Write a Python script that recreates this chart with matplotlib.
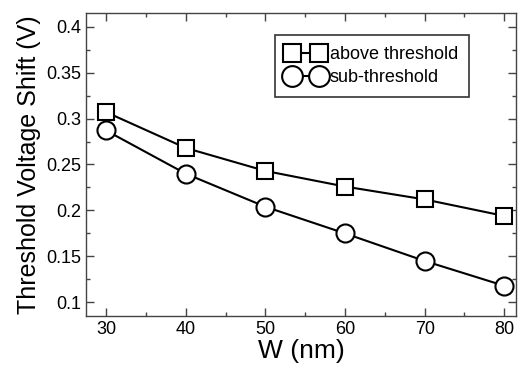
import matplotlib
matplotlib.use('Agg')
import matplotlib.pyplot as plt
from matplotlib.ticker import MultipleLocator

plt.rcParams['font.family'] = ['Liberation Sans', 'DejaVu Sans']

width_nm = [30, 40, 50, 60, 70, 80]
above_threshold = [0.307, 0.268, 0.243, 0.226, 0.212, 0.194]
sub_threshold = [0.287, 0.240, 0.204, 0.175, 0.145, 0.118]

fig = plt.figure(figsize=(5.22, 3.68), dpi=100)
ax = fig.add_axes([0.165, 0.141, 0.824, 0.824])

ax.plot(width_nm, above_threshold, '-s', color='black', lw=1.5,
        ms=11, mfc='white', mec='black', mew=1.5, label='above threshold')
ax.plot(width_nm, sub_threshold, '-o', color='black', lw=1.5,
        ms=13, mfc='white', mec='black', mew=1.5, label='sub-threshold')

ax.set_xlim(27.5, 81.5)
ax.set_ylim(0.085, 0.415)
ax.xaxis.set_major_locator(MultipleLocator(10))
ax.xaxis.set_minor_locator(MultipleLocator(5))
ax.yaxis.set_minor_locator(MultipleLocator(0.025))
ax.set_yticks([0.1, 0.15, 0.2, 0.25, 0.3, 0.35, 0.4])
ax.set_yticklabels(['0.1', '0.15', '0.2', '0.25', '0.3', '0.35', '0.4'])

ax.tick_params(which='both', direction='in', top=True, right=True,
               labelsize=13, width=1, color='#444444')
ax.tick_params(which='major', length=6)
ax.tick_params(which='minor', length=3)
for s in ax.spines.values():
    s.set_linewidth(1)
    s.set_color('#444444')

ax.set_xlabel('W (nm)', fontsize=19, labelpad=1)
ax.set_ylabel('Threshold Voltage Shift (V)', fontsize=18, labelpad=4)

leg = ax.legend(loc='upper left', bbox_to_anchor=(0.44, 0.927), numpoints=2,
                fontsize=13, frameon=True, fancybox=False, handlelength=2.1,
                handletextpad=0.3, borderpad=0.6, labelspacing=0.35,
                borderaxespad=0, markerscale=1.15)
leg.get_frame().set_edgecolor('black')
leg.get_frame().set_linewidth(1.2)

fig.savefig('out.png', dpi=100)
